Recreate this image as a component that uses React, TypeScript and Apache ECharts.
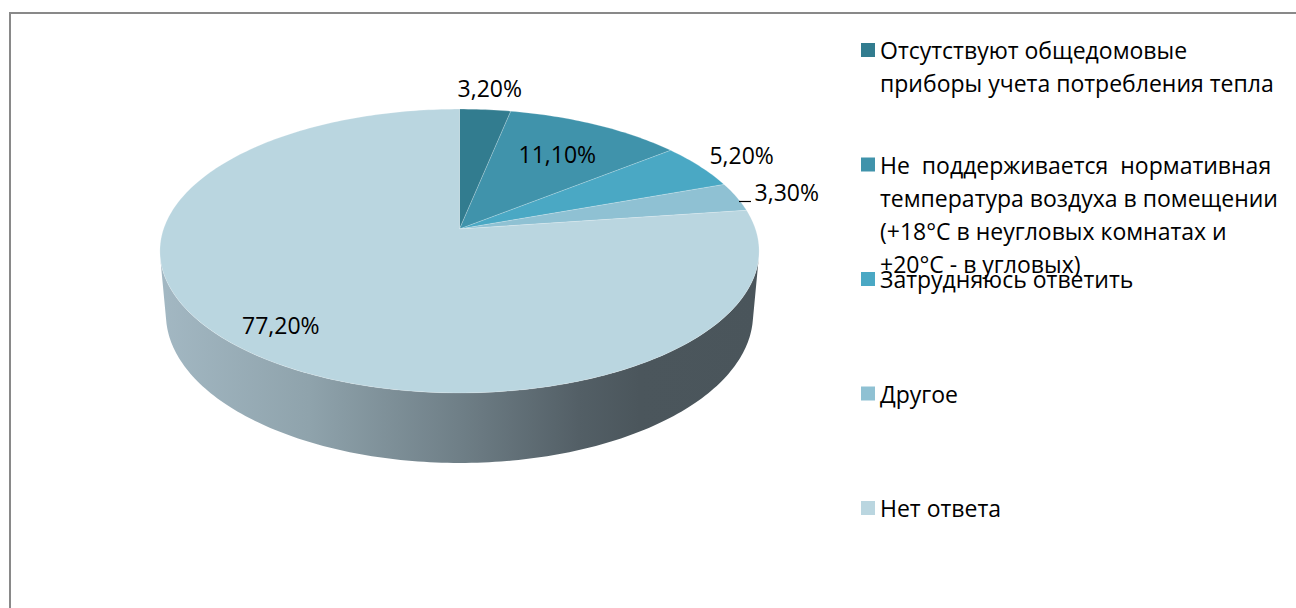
import React, { useEffect, useRef } from "react";
import * as echarts from "echarts";

// ---- data ----
const categories = [
  "Отсутствуют общедомовые\nприборы учета потребления тепла",
  "Не  поддерживается  нормативная\nтемпература воздуха в помещении\n(+18°C в неугловых комнатах и\n+20°C - в угловых)",
  "Затрудняюсь ответить",
  "Другое",
  "Нет ответа",
];
const values = [3.2, 11.1, 5.2, 3.3, 77.2];

// ---- styles / layout ----
const colors = ["#327c8f", "#4093ab", "#4aa8c4", "#8fc1d3", "#bad6e0"];
const labelRadius = [1.21, 0.69, 1.19, 1.19, 0.83];
const leaderLine = [false, false, false, true, false];
const FONT = '23px "Open Sans"';

// perspective projection of the 3D pie
const CX = 459.5;
const CY = 229;
const F = 1687;
const D = 5.7;
const SINP = 0.468;
const COSP = 0.884;
const H = 0.244;
const VIS_LO = (Math.acos(-1 / (D * COSP)) * 180) / Math.PI;
const VIS_HI = 360 - VIS_LO;

function proj(r: number, deg: number, y: number): number[] {
  const t = (deg * Math.PI) / 180;
  const x = r * Math.sin(t);
  const z = r * Math.cos(t);
  const depth = D - y * SINP + z * COSP;
  return [CX + (F * x) / depth, CY - (F * (y * COSP + z * SINP)) / depth];
}

function arc(a1: number, a2: number, y: number): number[][] {
  const pts: number[][] = [];
  const n = Math.max(2, Math.ceil(Math.abs(a2 - a1) / 1));
  for (let k = 0; k <= n; k++) pts.push(proj(1, a1 + ((a2 - a1) * k) / n, y));
  return pts;
}

function fmt(v: number): string {
  return v.toFixed(2).replace(".", ",") + "%";
}

export default function App() {
  const ref = useRef<HTMLDivElement>(null);
  useEffect(() => {
    if (!ref.current) return;
    const chart = echarts.init(ref.current, undefined, { renderer: "svg" });
    const total = values.reduce((a, b) => a + b, 0);
    const sideFill = new echarts.graphic.LinearGradient(
      158,
      0,
      760,
      0,
      [
        { offset: 0, color: "#a3b8c3" },
        { offset: 0.25, color: "#8fa3ac" },
        { offset: 0.5, color: "#6f7f87" },
        { offset: 0.7, color: "#535f66" },
        { offset: 0.8, color: "#4b565c" },
        { offset: 1, color: "#4a555b" },
      ],
      true
    );

    const renderItem = (params: any, api: any) => {
      const i = params.dataIndex;
      let before = 0;
      for (let k = 0; k < i; k++) before += values[k];
      const v = api.value(0);
      const start = (before / total) * 360;
      const end = ((before + v) / total) * 360;
      const mid = (start + end) / 2;
      const children: any[] = [];
      const lo = Math.max(start, VIS_LO);
      const hi = Math.min(end, VIS_HI);
      if (lo < hi) {
        const top = arc(lo, hi, 0);
        const bottom = arc(hi, lo, -H);
        children.push({
          type: "polygon",
          shape: { points: top.concat(bottom) },
          style: { fill: sideFill, stroke: null },
        });
      }
      const face = [proj(0, 0, 0)].concat(arc(start, end, 0));
      children.push({
        type: "polygon",
        shape: { points: face },
        style: { fill: colors[i], stroke: "rgba(255,255,255,0.25)", lineWidth: 0.8 },
      });
      if (leaderLine[i]) {
        const p1 = proj(1, mid, 0);
        const ly = Math.round(p1[1] + 4) + 0.5;
        children.push({
          type: "line",
          shape: { x1: Math.round(p1[0] + 2), y1: ly, x2: Math.round(p1[0] + 14), y2: ly },
          style: { stroke: "#000", lineWidth: 1.2 },
        });
        children.push({
          type: "text",
          style: {
            text: fmt(v),
            x: p1[0] + 18,
            y: p1[1] - 5,
            align: "left",
            verticalAlign: "middle",
            font: FONT,
            fill: "#000",
          },
        });
      } else {
        const p = proj(labelRadius[i], mid, 0);
        children.push({
          type: "text",
          style: {
            text: fmt(v),
            x: p[0],
            y: p[1],
            align: "center",
            verticalAlign: "middle",
            font: FONT,
            fill: "#000",
          },
        });
      }
      return { type: "group", children };
    };

    const legendGraphics: any[] = [];
    categories.forEach((name, i) => {
      const cy = 50 + i * 114.5;
      legendGraphics.push({
        type: "rect",
        shape: { x: 861, y: cy - 7, width: 14, height: 14 },
        style: { fill: colors[i] },
      });
      legendGraphics.push({
        type: "text",
        x: 880,
        y: cy - 16.5,
        style: {
          text: name,
          font: FONT,
          lineHeight: 33,
          fill: "#000",
          verticalAlign: "top",
        },
      });
    });

    chart.setOption({
      animation: false,
      backgroundColor: "#ffffff",
      graphic: [
        {
          type: "rect",
          shape: { x: 10, y: 13, width: 1400, height: 800 },
          style: { fill: "none", stroke: "#898989", lineWidth: 2 },
          z: -10,
        },
        ...legendGraphics,
      ],
      series: [
        {
          type: "custom",
          coordinateSystem: "none",
          renderItem,
          data: values.map((v) => [v]),
          silent: true,
        },
      ],
    });
    return () => chart.dispose();
  }, []);
  return (
    <div
      ref={ref}
      style={{ position: "absolute", left: 0, top: 0, width: 1296, height: 608 }}
    />
  );
}
